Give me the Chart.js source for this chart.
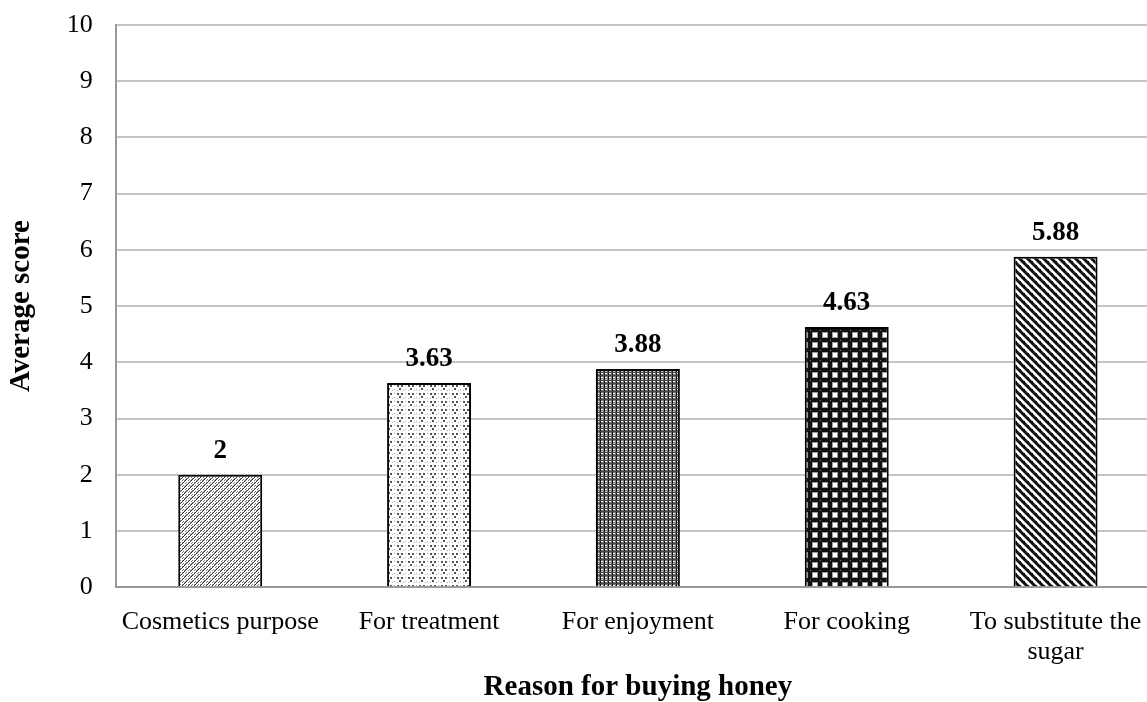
<!DOCTYPE html>
<html>
<head>
<meta charset="utf-8">
<script src="https://cdn.jsdelivr.net/npm/chart.js@4.4.0/dist/chart.umd.min.js"></script>
<style>
  html, body { margin: 0; padding: 0; background: #fff; overflow: hidden; }
  #wrap { width: 1160px; height: 702px; }
</style>
</head>
<body>
<div id="wrap"><canvas id="barChart"></canvas></div>
<script>
const categories = ['Cosmetics purpose', 'For treatment', 'For enjoyment', 'For cooking', ['To substitute the', 'sugar']];
const scores = [2, 3.63, 3.88, 4.63, 5.88];
const yTicks = [0, 1, 2, 3, 4, 5, 6, 7, 8, 9, 10];

// small tiles for the bar fills
function tile(w, h, draw) {
  const c = document.createElement('canvas');
  c.width = w; c.height = h;
  const g = c.getContext('2d');
  g.fillStyle = '#fff';
  g.fillRect(0, 0, w, h);
  draw(g);
  return document.createElement('canvas').getContext('2d').createPattern(c, 'repeat');
}

function px(g, color, pts) {
  g.fillStyle = color;
  pts.forEach(p => g.fillRect(p[0], p[1], p[2] || 1, p[3] || 1));
}

const patterns = [
  // dotted diagonal stripes
  tile(6, 6, g => {
    px(g, '#333', [[5, 0], [4, 1], [3, 2], [2, 3], [1, 4], [0, 5]]);
    px(g, '#999', [[4, 0], [2, 2], [0, 4], [5, 5]]);
    px(g, '#777', [[2, 0], [0, 2], [5, 3], [3, 5]]);
  }),
  // sparse dot clusters
  tile(11, 8, g => {
    px(g, '#555', [[1, 1, 2, 2], [5, 1, 2, 2], [3, 4, 2, 2]]);
    px(g, '#aaa', [[9, 1], [9, 5], [1, 6], [7, 6]]);
  }),
  // gray plaid
  tile(8, 8, g => {
    px(g, '#777', [[0, 0, 8, 8]]);
    px(g, '#fff', [[1, 1, 2, 1], [5, 1, 2, 1], [1, 5, 2, 1], [5, 5, 2, 1]]);
    px(g, '#ccc', [[1, 3, 2, 1], [5, 3, 2, 1]]);
    px(g, '#111', [[0, 0, 1, 8], [4, 0, 1, 8]]);
    px(g, '#444', [[0, 4, 8, 1], [0, 7, 8, 1]]);
  }),
  // black lattice with white squares
  tile(10, 10, g => {
    px(g, '#111', [[0, 0, 10, 10]]);
    px(g, '#999', [[2, 2, 6, 6]]);
    px(g, '#fff', [[3, 3, 4, 4]]);
    px(g, '#777', [[0, 0]]);
  }),
  // dark diagonal waves
  tile(8, 8, g => {
    for (let y = 0; y < 8; y++) {
      px(g, '#111', [[y % 8, y], [(y + 1) % 8, y], [(y + 2) % 8, y]]);
      px(g, '#777', [[(y + 3) % 8, y], [(y + 7) % 8, y]]);
    }
    px(g, '#000', [[4, 1], [0, 5]]);
  })
];

// value labels above each bar
const barValues = {
  id: 'barValues',
  afterDatasetsDraw(chart) {
    const ctx = chart.ctx;
    const meta = chart.getDatasetMeta(0);
    ctx.save();
    ctx.font = 'bold 27px "Liberation Serif"';
    ctx.fillStyle = '#000';
    ctx.textAlign = 'center';
    ctx.textBaseline = 'alphabetic';
    meta.data.forEach((bar, i) => {
      ctx.fillText(String(scores[i]), bar.x, bar.y - 17);
    });
    ctx.restore();
  }
};

const ctx = document.getElementById('barChart');

new Chart(ctx, {
  type: 'bar',
  data: {
    labels: categories,
    datasets: [{
      data: scores,
      backgroundColor: patterns,
      borderColor: '#000',
      borderWidth: 2,
      categoryPercentage: 1,
      barPercentage: 0.402
    }]
  },
  options: {
    responsive: true,
    maintainAspectRatio: false,
    animation: false,
    layout: { padding: { top: 25, left: 4, right: 0, bottom: 0 } },
    plugins: {
      legend: { display: false },
      tooltip: { enabled: false }
    },
    scales: {
      x: {
        afterFit: axis => { axis.height -= 6; },
        grid: { display: false },
        border: { color: '#999', width: 2 },
        ticks: {
          color: '#000',
          font: { family: 'Liberation Serif', size: 26, lineHeight: 1.15 },
          padding: 12,
          maxRotation: 0
        },
        title: {
          display: true,
          text: 'Reason for buying honey',
          color: '#000',
          font: { family: 'Liberation Serif', size: 29, weight: 'bold', lineHeight: 1 },
          padding: { top: 0, bottom: 0 }
        }
      },
      y: {
        min: 0,
        max: 10,
        afterFit: axis => { axis.paddingTop = 0; },
        afterBuildTicks: axis => { axis.ticks = yTicks.map(v => ({ value: v })); },
        grid: { color: '#c4c4c4', lineWidth: 2, drawTicks: false },
        border: { color: '#999', width: 2 },
        ticks: {
          color: '#000',
          font: { family: 'Liberation Serif', size: 26 },
          padding: 23
        },
        title: {
          display: true,
          text: 'Average score',
          color: '#000',
          font: { family: 'Liberation Serif', size: 29, weight: 'bold' },
          padding: { top: 0, bottom: 5 }
        }
      }
    }
  },
  plugins: [barValues]
});
</script>
</body>
</html>
